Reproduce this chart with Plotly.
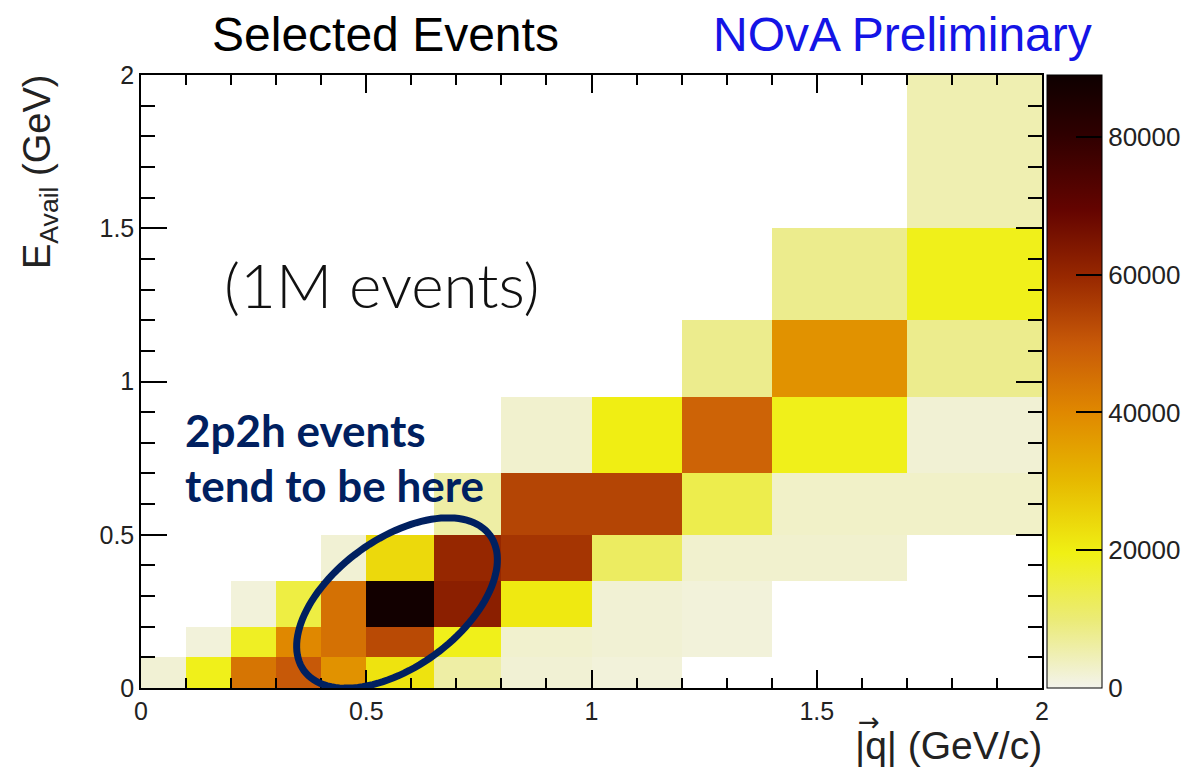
import numpy as np
import plotly.graph_objects as go

# Bin edges (variable binning)
q_edges = [0, 0.1, 0.2, 0.3, 0.4, 0.5, 0.65, 0.8, 1.0, 1.2, 1.4, 1.7, 2.0]
e_edges = [0, 0.1, 0.2, 0.35, 0.5, 0.7, 0.95, 1.2, 1.5, 2.0]

N = None
# counts per cell, rows = E_avail bins (bottom to top), cols = |q| bins
row_0_00_10 = [2000, 19000, 44000, 50000, 38000, 22000, 6000, 2000, 1500, N, N, N]
row_1_10_20 = [N, 1500, 18000, 40000, 45000, 53000, 19000, 2500, 2000, 1500, N, N]
row_2_20_35 = [N, N, 1500, 15000, 45000, 88000, 62000, 21000, 2000, 1500, N, N]
row_3_35_50 = [N, N, N, N, 2000, 24000, 60000, 57000, 12000, 2500, 2500, N]
row_4_50_70 = [N, N, N, N, N, N, 6000, 54000, 54000, 14000, 3000, 3000]
row_5_70_95 = [N, N, N, N, N, N, N, 2500, 20000, 48000, 19000, 2000]
row_6_95_120 = [N, N, N, N, N, N, N, N, N, 8000, 38000, 8000]
row_7_120_150 = [N, N, N, N, N, N, N, N, N, N, 8000, 19000]
row_8_150_200 = [N, N, N, N, N, N, N, N, N, N, N, 5000]

z = [row_0_00_10, row_1_10_20, row_2_20_35, row_3_35_50, row_4_50_70,
     row_5_70_95, row_6_95_120, row_7_120_150, row_8_150_200]

cbar_ticks = [0, 20000, 40000, 60000, 80000]
zmax = 89000

colorscale = [
    [0.00, "#f3f3ec"],
    [0.11, "#ebeb78"],
    [0.22, "#f0f014"],
    [0.34, "#e6b800"],
    [0.45, "#e08800"],
    [0.56, "#c85a08"],
    [0.67, "#982800"],
    [0.78, "#640400"],
    [0.90, "#300000"],
    [1.00, "#0e0000"],
]

fig = go.Figure(go.Heatmap(
    x=q_edges, y=e_edges, z=z,
    zmin=0, zmax=zmax, colorscale=colorscale,
    hoverongaps=False,
    colorbar=dict(
        x=1.0055, xanchor="left", y=0.5, yanchor="middle",
        len=1.0, lenmode="fraction", thickness=55, thicknessmode="pixels",
        outlinecolor="black", outlinewidth=1,
        tickvals=cbar_ticks, tickformat="d",
        ticks="inside", ticklen=26, tickcolor="black", tickwidth=1.5,
        tickfont=dict(family="Liberation Sans", size=26, color="#222"),
        xpad=0, ypad=0,
    ),
))

# The page body adds an 8 px offset; work in reference pixels and subtract it.
OFF = 8
W, H = 1195 - OFF, 768 - OFF
L, T = 141 - OFF, 75 - OFF
R = W - (1042 - OFF)
B = H - (688 - OFF)
pw, ph = W - L - R, H - T - B

def fx(p):  # reference pixel x -> paper x
    return (p - OFF - L) / pw

def fy(p):  # reference pixel y -> paper y
    return (H - B - (p - OFF)) / ph

# Ellipse annotation defined in reference pixel space, converted to data coords
cx, cy, a, b, th = 397, 603, 115, 64, np.deg2rad(36)
t = np.linspace(0, 2 * np.pi, 121)
px = cx + a * np.cos(t) * np.cos(th) - b * np.sin(t) * np.sin(th)
py = cy - (a * np.cos(t) * np.sin(th) + b * np.sin(t) * np.cos(th))
ex = fx(px) * 2.0
ey = fy(py) * 2.0
path = "M " + " L ".join(f"{x:.4f},{y:.4f}" for x, y in zip(ex, ey)) + " Z"

fig.add_shape(type="path", path=path, xref="x", yref="y",
              line=dict(color="#002060", width=7), layer="above")

axis_common = dict(
    range=[0, 2], showline=True, linecolor="black", linewidth=1.5, mirror="ticks",
    ticks="inside", tickcolor="black", tickwidth=1.5,
    showgrid=False, zeroline=False, dtick=0.5, tick0=0,
    tickfont=dict(family="Liberation Sans", size=25, color="#222"),
)

fig.update_layout(
    width=W, height=H,
    margin=dict(l=L, r=R, t=T, b=B, autoexpand=False),
    paper_bgcolor="white", plot_bgcolor="white",
    xaxis=dict(**axis_common, ticklen=18,
               minor=dict(ticks="inside", dtick=0.1, ticklen=10, tickcolor="black", tickwidth=1.5)),
    yaxis=dict(**axis_common, ticklen=26,
               minor=dict(ticks="inside", dtick=0.1, ticklen=14, tickcolor="black", tickwidth=1.5)),
    showlegend=False,
)

annots = [
    dict(text="Selected Events", x=fx(385), y=fy(35),
         font=dict(family="Liberation Sans", size=48, color="black")),
    dict(text="NOvA Preliminary", x=fx(902), y=fy(35),
         font=dict(family="Liberation Sans", size=48, color="#1414e6")),
    dict(text="E<sub>Avail</sub> (GeV)", x=fx(40), y=fy(172),
         textangle=-90, font=dict(family="Liberation Sans", size=38, color="#222")),
    dict(text="|q| (GeV/c)", x=fx(1044), y=fy(745),
         xanchor="right", font=dict(family="Liberation Sans", size=39, color="#222")),
    dict(text="\u2192", x=fx(869), y=fy(722),
         font=dict(family="DejaVu Sans", size=26, color="#222")),
    dict(text="(1M events)", x=fx(382), y=fy(284),
         font=dict(family="Lato", size=62, weight=300, color="#111")),
    dict(text="<b>2p2h events</b>", x=fx(183), y=fy(430),
         xanchor="left", font=dict(family="Lato", size=44, color="#002060")),
    dict(text="<b>tend to be here</b>", x=fx(183), y=fy(485),
         xanchor="left", font=dict(family="Lato", size=44, color="#002060")),
]
for an in annots:
    an.setdefault("xanchor", "center")
    fig.add_annotation(xref="paper", yref="paper", yanchor="middle",
                       showarrow=False, **an)

fig.write_html("out.html")
